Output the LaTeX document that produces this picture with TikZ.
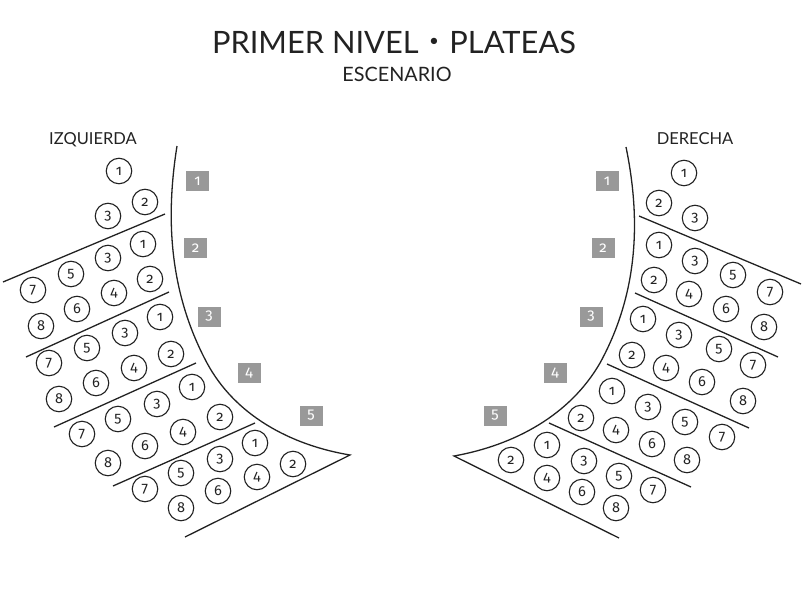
\documentclass[tikz,border=0pt]{standalone}
\usepackage{fontspec}
\setmainfont{Lato}
\newfontfamily\seatfont[Numbers=OldStyle]{Fira Sans}
\definecolor{ink}{HTML}{222222}
\definecolor{rowbox}{HTML}{999999}
\tikzset{
    seat/.style={draw=ink, line width=1.1pt, circle, inner sep=0pt, minimum size=25.5pt, text=ink, font=\seatfont\fontsize{14.5}{14.5}\selectfont},
    rowtag/.style={fill=rowbox, inner sep=0pt, minimum width=23pt, minimum height=20pt, text=white, font=\seatfont\fontsize{15}{15}\selectfont},
    divider/.style={draw=ink, line width=1.3pt},
    sidelabel/.style={text=ink, anchor=base, font=\fontsize{16.5}{16.5}\selectfont}
}

\begin{document}
\begin{tikzpicture}[x=1pt, y=-1pt]
    \useasboundingbox (0,0) rectangle (802,602);
    \node[text=ink, anchor=base, font=\fontsize{30.8}{30.8}\selectfont] (title) at (394,53) {PRIMER NIVEL\hspace{10.5pt}\raisebox{7pt}{\fontsize{17}{17}\selectfont •}\hspace{10.5pt}PLATEAS};
    \node[text=ink, anchor=base, font=\fontsize{19.8}{19.8}\selectfont] (stage) at (397,81.5) {ESCENARIO};
    \node[sidelabel] (left) at (93,144) {IZQUIERDA};
    \node[sidelabel] (right) at (695,144) {DERECHA};
    % left side
    \draw[divider] (177,146) .. controls (166,215) and (168,290) .. (207,363) .. controls (235,415) and (290,445) .. (350,455) -- (185,537);
    \draw[divider] (165,214) -- (3,282);
    \draw[divider] (169,292) -- (26,357);
    \draw[divider] (196,363) -- (54,427);
    \draw[divider] (255,423) -- (113,486);
    \foreach \b/\x/\y in {1/197.5/181, 2/195.5/248, 3/209/316.5, 4/249/373, 5/311/415.5}
        \node[rowtag] (ltag\b) at (\x,\y) {\b};
    \foreach \b/\s/\x/\y in {
        1/1/119/171, 1/2/145/202, 1/3/108/216,
        2/1/143/244, 2/3/108/258, 2/5/71/274, 2/7/33/290, 2/2/150/279, 2/4/114/293, 2/6/77/309, 2/8/41/326,
        3/1/160/317, 3/3/125/333, 3/5/87/348, 3/7/49/363, 3/2/171/354, 3/4/134/368, 3/6/96/383, 3/8/59/399,
        4/1/192/387, 4/3/157/404, 4/5/118/419, 4/7/82/434, 4/2/220/417, 4/4/183/432, 4/6/145/446, 4/8/108/463,
        5/1/255/443, 5/3/220/459, 5/5/181/473, 5/7/145/489, 5/2/293/464, 5/4/257/477, 5/6/218/491, 5/8/181/508}
        \node[seat] (l\b-\s) at (\x,\y) {\s};
    % right side
    \draw[divider] (626,147) .. controls (640,215) and (640,290) .. (600,363) .. controls (570,415) and (515,445) .. (454,456) -- (619,538);
    \draw[divider] (639,216) -- (801,284);
    \draw[divider] (635,293) -- (778,357);
    \draw[divider] (607,364) -- (749,428);
    \draw[divider] (549,423) -- (691,487);
    \foreach \b/\x/\y in {1/607/181, 2/603/248, 3/591/316.5, 4/555/373, 5/495/415.5}
        \node[rowtag] (rtag\b) at (\x,\y) {\b};
    \foreach \b/\s/\x/\y in {
        1/1/684/173, 1/2/659/203, 1/3/695/218,
        2/1/659/245, 2/3/695/261, 2/5/733/275, 2/7/770/292, 2/2/654/280, 2/4/689/294, 2/6/726/309, 2/8/764/327,
        3/1/643/319, 3/3/679/335, 3/5/719/349, 3/7/753/365, 3/2/632/355, 3/4/666/368, 3/6/702/382, 3/8/743/401,
        4/1/612/391, 4/3/648/407, 4/5/685/422, 4/7/722/437, 4/2/581/418, 4/4/616/430, 4/6/652/444, 4/8/687/460,
        5/1/547/445, 5/3/584/461, 5/5/619/476, 5/7/653/490, 5/2/511/460, 5/4/547/478, 5/6/582/492, 5/8/616/508}
        \node[seat] (r\b-\s) at (\x,\y) {\s};
\end{tikzpicture}
\end{document}
